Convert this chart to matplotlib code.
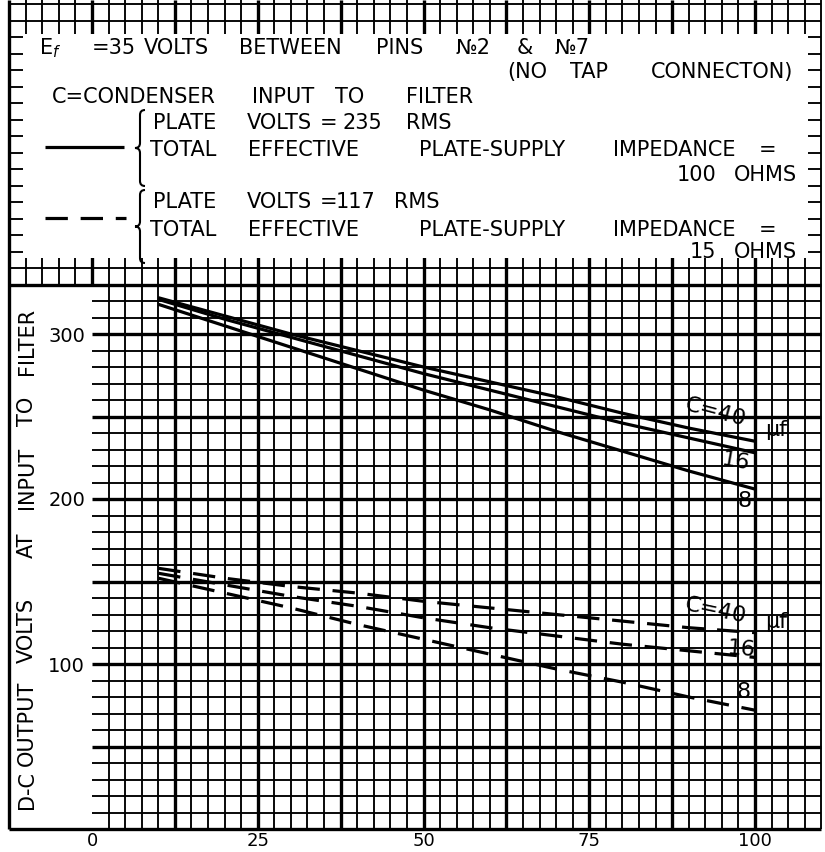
import numpy as np
import matplotlib.pyplot as plt
from matplotlib.patches import Rectangle, PathPatch
from matplotlib.path import Path

# D-C output current (x) against d-c output volts at input to filter
load_ma = [10, 20, 30, 40, 50, 60, 70, 80, 90, 100]
# plate volts = 235 RMS, 100 ohms supply impedance (solid)
v235_c40 = [322, 311, 300, 290, 280, 271, 262, 252, 243, 235]
v235_c16 = [321, 309, 298, 287, 276, 266, 256, 246, 237, 228]
v235_c8 = [318, 305, 292, 279, 266, 254, 241, 229, 217, 206]
# plate volts = 117 RMS, 15 ohms supply impedance (dashed)
v117_c40 = [158, 152, 147, 143, 138, 134, 130, 126, 122, 119]
v117_c16 = [155, 148, 141, 135, 128, 122, 117, 112, 108, 104]
v117_c8 = [152, 143, 134, 124, 115, 106, 97, 89, 80, 72]

x_ticks = [0, 25, 50, 75, 100]
y_ticks = [100, 200, 300]
ylabel_words = ["D-C", "OUTPUT", "VOLTS", "AT", "INPUT", "TO", "FILTER"]

# page geometry (pixels)
W, H = 825, 852
X0, SX = 92, 6.63      # pixel of x=0, pixels per unit
Y0, SY = 829, 1.65     # pixel of y=0, pixels per volt
FS = 15

fig = plt.figure(figsize=(W / 100, H / 100), dpi=100)
bg = fig.add_axes([0, 0, 1, 1])
bg.set_xlim(-X0 / SX, (W - X0) / SX)
bg.set_ylim(-(H - Y0) / SY, Y0 / SY)
bg.axis("off")
ymax = Y0 / SY


def bx(px):
    return (px - X0) / SX


def by(py):
    return (Y0 - py) / SY


def grid_lw(v, step):
    return 2.4 if abs(v / step - round(v / step)) < 1e-6 else 1.35


# graph paper
kw = dict(color="black", zorder=2, capstyle="butt")
for x in np.arange(2.5, 110.01, 2.5):
    bg.vlines(x, 0, 330, lw=grid_lw(x, 12.5), **kw)
for x in np.arange(-10, 110.01, 2.5):
    bg.vlines(x, 330, ymax, lw=grid_lw(x, 12.5), **kw)
bg.vlines(-12.5, 0, ymax, lw=2.4, **kw)
for y in range(10, 330, 10):
    bg.hlines(y, 0, 110, lw=grid_lw(y, 50), **kw)
bg.hlines([0, 330], -12.5, 110, lw=2.4, **kw)
for y in range(340, 501, 10):
    bg.hlines(y, -12.5, 110, lw=1.35, **kw)

# white header box (leaves tick stubs of the paper around it)
bg.add_patch(Rectangle((-10.4, 346), 118.4, 136, facecolor="white",
                       edgecolor="none", zorder=3))

# header text, word by word (center x in px, baseline y in px)
header = [
    (54, [("E$_f$", 50), ("=35", 114), ("VOLTS", 176),
          ("BETWEEN", 290), ("PINS", 400), ("№2", 473), ("&", 525),
          ("№7", 572)]),
    (78, [("(NO", 527), ("TAP", 589), ("CONNECTON)", 722)]),
    (103, [("C=CONDENSER", 134), ("INPUT", 283), ("TO", 350),
           ("FILTER", 440)]),
    (129, [("PLATE", 185), ("VOLTS", 279), ("=", 329), ("235", 362),
           ("RMS", 429)]),
    (156, [("TOTAL", 183), ("EFFECTIVE", 304), ("PLATE-SUPPLY", 492),
           ("IMPEDANCE", 674), ("=", 768)]),
    (181, [("100", 697), ("OHMS", 765)]),
    (208, [("PLATE", 185), ("VOLTS", 279), ("=", 329), ("117", 356),
           ("RMS", 417)]),
    (236, [("TOTAL", 183), ("EFFECTIVE", 304), ("PLATE-SUPPLY", 492),
           ("IMPEDANCE", 674), ("=", 768)]),
    (258, [("15", 703), ("OHMS", 765)]),
]
for base, words in header:
    for word, cx in words:
        bg.text(bx(cx), by(base), word, fontsize=FS, ha="center",
                va="baseline", zorder=4)

# legend samples and braces
bg.plot([bx(45), bx(124)], [by(147)] * 2, color="black", lw=2.3,
        solid_capstyle="butt", zorder=4)
bg.plot([bx(45), bx(126)], [by(218)] * 2, color="black", lw=2.3,
        ls=(0, (7, 4)), dash_capstyle="butt", zorder=4)


def brace(xc, y1, y2, w=10):
    ym, h = (y1 + y2) / 2, w / 2
    pts = [(xc + h, y1), (xc, y1), (xc, y1 + h), (xc, ym - h), (xc, ym),
           (xc - h, ym), (xc, ym), (xc, ym + h), (xc, y2 - h), (xc, y2),
           (xc + h, y2)]
    codes = [Path.MOVETO, Path.CURVE3, Path.CURVE3, Path.LINETO,
             Path.CURVE3, Path.CURVE3, Path.CURVE3, Path.CURVE3,
             Path.LINETO, Path.CURVE3, Path.CURVE3]
    verts = [(bx(px), by(py)) for px, py in pts]
    bg.add_patch(PathPatch(Path(verts, codes), fill=False, lw=1.5,
                           edgecolor="black", zorder=4))


brace(140, 110, 186)
brace(140, 190, 263)

# y axis title, word by word (center y in px)
for word, cy in zip(ylabel_words, [790, 723, 630, 545, 478, 411, 341]):
    bg.text(bx(27), by(cy), word, fontsize=FS, rotation=90, ha="center",
            va="center", zorder=4)

# data axes
ax = fig.add_axes([X0 / W, (H - Y0) / H, 110 * SX / W, 330 * SY / H])
ax.set_xlim(0, 110)
ax.set_ylim(0, 330)
ax.patch.set_alpha(0)
for s in ax.spines.values():
    s.set_visible(False)
ax.set_xticks(x_ticks)
ax.set_xticklabels([str(t) for t in x_ticks])
ax.set_yticks(y_ticks)
ax.set_yticklabels([str(t) for t in y_ticks])
ax.tick_params(axis="x", length=0, labelsize=13, pad=2)
ax.tick_params(axis="y", length=0, labelsize=14, pad=5)

for vals in (v235_c40, v235_c16, v235_c8):
    ax.plot(load_ma, vals, color="black", lw=2.3, solid_capstyle="butt")
for vals in (v117_c40, v117_c16, v117_c8):
    ax.plot(load_ma, vals, color="black", lw=2.3, ls=(0, (7, 4)),
            dash_capstyle="butt")

# curve labels
for (lx, ly), rot, txt in zip([(94.1, 252.7), (97.0, 222.4), (98.5, 198.8)],
                              [-15, -10, 0], ["C=40", "16", "8"]):
    ax.text(lx, ly, txt, fontsize=16, rotation=rot, ha="center", va="center")
ax.text(103.2, 241.8, "µf", fontsize=16, ha="center", va="center")
for (lx, ly), rot, txt in zip([(94.1, 132.1), (97.9, 109.1), (98.3, 83.0)],
                              [-12, -5, 0], ["C=40", "16", "8"]):
    ax.text(lx, ly, txt, fontsize=16, rotation=rot, ha="center", va="center")
ax.text(103.2, 125.5, "µf", fontsize=16, ha="center", va="center")

fig.savefig("out.png", dpi=100)
